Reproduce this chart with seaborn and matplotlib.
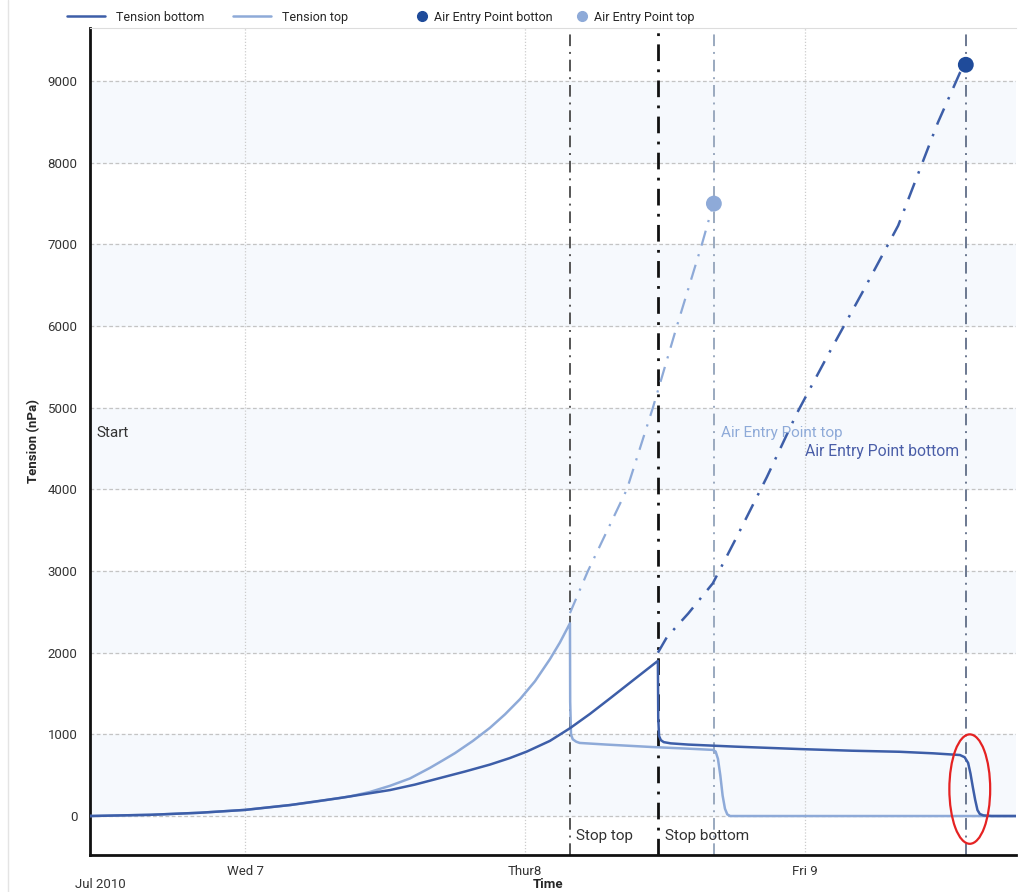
import pandas as pd
import numpy as np
import matplotlib
matplotlib.use("Agg")
import matplotlib.pyplot as plt
import matplotlib.dates as mdates
from matplotlib.patches import Ellipse
from matplotlib.lines import Line2D
import seaborn as sns

# Data (hours since 2010-07-06 00:00, tension in nPa)
hours_top = [10.7, 15.9, 20.1, 24.0, 27.9, 30.0, 33.0, 34.71, 36.43, 38.14, 39.86, 41.0, 42.0, 43.54,
             45.0, 46.29, 47.57, 48.86, 50.14, 51.0, 51.86,
             51.88, 51.95, 52.1, 52.4, 52.7, 55.0, 58.9, 62.0, 64.1, 64.35, 64.55, 64.75, 64.95,
             65.15, 65.35, 65.6, 75.0, 90.3]
tension_top = [0, 15, 40, 75, 135, 175, 240, 295, 370, 460, 590, 685, 770, 920,
               1080, 1245, 1430, 1650, 1920, 2125, 2360,
               1400, 1000, 940, 910, 895, 875, 845, 825, 810, 790, 700, 500, 250,
               90, 20, 0, 0, 0]

hours_bottom = [10.7, 15.9, 20.1, 24.0, 27.9, 32.1, 36.43, 38.57, 40.71, 42.86, 45.0, 46.71, 48.17,
                50.14, 51.86, 53.57, 55.29, 57.43, 59.4,
                59.43, 59.5, 59.65, 59.9, 60.5, 62.0, 66.0, 71.6, 76.0, 80.1, 83.0, 85.3, 85.7,
                86.0, 86.2, 86.4, 86.6, 86.8, 87.0, 87.3, 88.0, 90.3]
tension_bottom = [0, 15, 40, 75, 135, 220, 318, 385, 465, 545, 630, 710, 790,
                  920, 1075, 1250, 1440, 1680, 1900,
                  1200, 980, 930, 905, 890, 875, 850, 820, 800, 787, 768, 747, 720,
                  650, 520, 355, 200, 73, 25, 8, 0, 0]

hours_top_extra = [51.86, 53.4, 56.74, 58.97, 61.03, 63.17, 64.16]
tension_top_extra = [2485, 3000, 4000, 5000, 6000, 7000, 7500]

hours_bottom_extra = [59.4, 60.17, 62.0, 64.11, 66.17, 68.74, 71.31, 74.0, 77.0, 80.0, 83.4, 85.29, 85.8]
tension_bottom_extra = [2000, 2190, 2480, 2850, 3420, 4150, 4930, 5650, 6430, 7230, 8490, 9100, 9200]

air_entry_hours = [85.8, 64.2]
air_entry_values = [9200, 7500]
air_entry_names = ["Air Entry Point botton", "Air Entry Point top"]

stop_top_h = 51.86
stop_bottom_h = 59.4

start = pd.Timestamp("2010-07-06")
def to_time(h):
    return start + pd.to_timedelta(np.array(h), unit="h")

c_bottom = "#3d5ea8"
c_top = "#8eaad8"
c_pt_bottom = "#1f4b9a"

sns.set_style("white")
plt.rcParams["font.family"] = ["Roboto", "DejaVu Sans"]

fig = plt.figure(figsize=(10.18, 8.92), dpi=100)
ax = fig.add_axes([0.0884, 0.0415, 0.9096, 0.9271])

# alternating bands
for lo in range(0, 9000, 2000):
    ax.axhspan(lo, lo + 1000, color="#f6f9fd", zorder=0)
for v in range(0, 10000, 1000):
    ax.axhline(v, color="#c4c4c4", lw=0.9, ls=(0, (3, 2)), zorder=1)
for d in ["2010-07-07", "2010-07-08", "2010-07-09"]:
    ax.axvline(pd.Timestamp(d), color="#cccccc", lw=0.9, ls=(0, (1, 1.5)), zorder=1)

# event lines
dashdot = (0, (6, 3, 1, 3))
ax.axvline(to_time([stop_top_h])[0], color="#555555", lw=1.4, ls=dashdot, zorder=2)
ax.axvline(to_time([stop_bottom_h])[0], color="#111111", lw=2.0, ls=dashdot, zorder=2)
ax.axvline(to_time([air_entry_hours[1]])[0], color="#9aa9bf", lw=1.4, ls=dashdot, zorder=2)
ax.axvline(to_time([air_entry_hours[0]])[0], color="#6b7890", lw=1.4, ls=dashdot, zorder=2)

# extrapolations
ax.plot(to_time(hours_top_extra), tension_top_extra, color=c_top, lw=1.6, ls=(0, (7, 4, 1, 4)), zorder=3)
ax.plot(to_time(hours_bottom_extra), tension_bottom_extra, color=c_bottom, lw=1.8, ls=(0, (7, 4, 1, 4)), zorder=3)

df_top = pd.DataFrame({"time": to_time(hours_top), "tension": tension_top})
df_bot = pd.DataFrame({"time": to_time(hours_bottom), "tension": tension_bottom})
sns.lineplot(data=df_top, x="time", y="tension", ax=ax, color=c_top, lw=1.8, zorder=4, sort=False)
sns.lineplot(data=df_bot, x="time", y="tension", ax=ax, color=c_bottom, lw=1.8, zorder=5, sort=False)

df_pts = pd.DataFrame({"time": to_time(air_entry_hours), "tension": air_entry_values, "name": air_entry_names})
sns.scatterplot(data=df_pts, x="time", y="tension", hue="name", palette=[c_pt_bottom, c_top],
                s=130, edgecolor="none", ax=ax, zorder=6, legend=False)

# red ellipse
ec = mdates.date2num(to_time([86.14])[0])
ax.add_patch(Ellipse((ec, 330), width=3.5 / 24, height=1340, fill=False,
                     edgecolor="#e52222", lw=1.6, zorder=7))

# annotations
ax.text(to_time([11.3])[0], 4690, "Start", fontsize=11, color="#333333", va="center")
ax.text(to_time([52.35])[0], -240, "Stop top", fontsize=11, color="#333333", va="center")
ax.text(to_time([60.0])[0], -240, "Stop bottom", fontsize=11, color="#333333", va="center")
ax.text(to_time([64.85])[0], 4690, "Air Entry Point top", fontsize=11, color=c_top, va="center")
ax.text(to_time([72.05])[0], 4470, "Air Entry Point bottom", fontsize=11.3, color="#4a5ea8", va="center")

ax.set_xlim(to_time([10.71])[0], to_time([90.1])[0])
ax.set_ylim(-477, 9650)
ax.set_yticks(range(0, 10000, 1000))
ax.set_xticks(pd.to_datetime(["2010-07-07", "2010-07-08", "2010-07-09"]))
ax.set_xticklabels(["Wed 7", "Thur8", "Fri 9"])
ax.tick_params(axis="both", length=0, labelsize=9.5, labelcolor="#333333")
ax.tick_params(axis="x", pad=7)
ax.tick_params(axis="y", pad=9)
ax.set_xlabel("")
ax.set_ylabel("Tension (nPa)", fontsize=9.5, fontweight="bold", labelpad=5)
fig.text(0.5385, 0.001, "Time", fontsize=9.5, fontweight="bold", ha="center", va="bottom")
fig.text(0.074, 0.001, "Jul 2010", fontsize=9.5, color="#333333", ha="left", va="bottom")

for s in ["left", "bottom"]:
    ax.spines[s].set_color("#111111")
    ax.spines[s].set_linewidth(2.0)
ax.spines["top"].set_color("#dddddd")
ax.spines["top"].set_linewidth(0.8)
ax.spines["right"].set_visible(False)

# faint screenshot border line on the left
fig.add_artist(Line2D([0.008, 0.008], [0, 1], color="#e4e4e4", lw=1, transform=fig.transFigure))

line_handles = [Line2D([], [], color=c_bottom, lw=1.8), Line2D([], [], color=c_top, lw=1.8)]
leg1 = fig.legend(line_handles, ["Tension bottom", "Tension top"], loc="upper left",
                  bbox_to_anchor=(0.055, 1.0005), ncol=2, frameon=False, fontsize=9,
                  handlelength=3.0, columnspacing=2.3, handletextpad=0.9)
dot_handles = [Line2D([], [], color=c_pt_bottom, marker="o", ls="none", markersize=7),
               Line2D([], [], color=c_top, marker="o", ls="none", markersize=7)]
leg2 = fig.legend(dot_handles, air_entry_names, loc="upper left",
                  bbox_to_anchor=(0.397, 1.0005), ncol=2, frameon=False, fontsize=9,
                  handlelength=1.0, columnspacing=1.8, handletextpad=0.5)

fig.savefig("out.png", dpi=100)
